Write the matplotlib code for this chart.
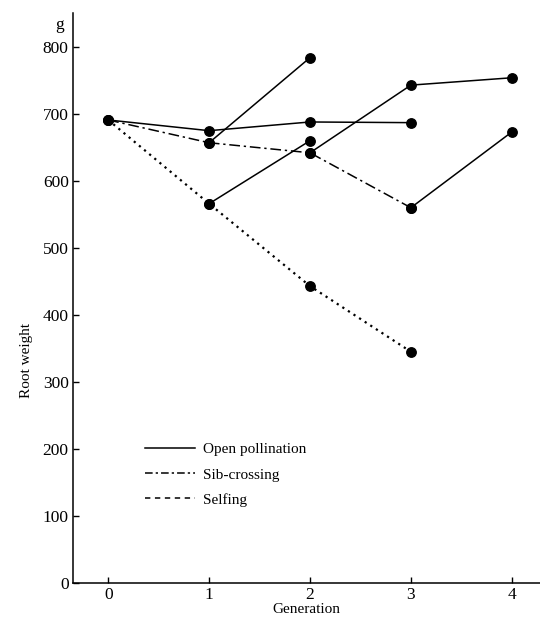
import matplotlib.pyplot as plt
from matplotlib.lines import Line2D

plt.rcParams['font.family'] = ['Liberation Serif', 'DejaVu Serif']

# mean root weight (g) per generation
gen_open = [0, 1, 2, 3]
open_poll = [691, 675, 688, 687]

gen_sib = [0, 1, 2, 3]
sib_cross = [691, 657, 642, 560]

gen_self = [0, 1, 2, 3]
selfing = [691, 566, 443, 345]

# open-pollinated progeny raised from the inbred lines
branch_gens = [[1, 2], [1, 2], [2, 3, 4], [3, 4]]
branch_vals = [[657, 784], [566, 660], [642, 743, 754], [560, 673]]

y_ticks = [0, 100, 200, 300, 400, 500, 600, 700, 800]
x_ticks = [0, 1, 2, 3, 4]

fig = plt.figure(figsize=(5.4, 6.24), dpi=100)
ax = fig.add_axes([0.135, 0.066, 0.865, 0.9135])

lw = 1.1
ms = 6.8
for g, v in zip(branch_gens, branch_vals):
    ax.plot(g, v, color='black', lw=lw, marker='o', ms=ms)
ax.plot(gen_open, open_poll, color='black', lw=lw, marker='o', ms=ms)
ax.plot(gen_sib, sib_cross, color='black', lw=lw, marker='o', ms=ms,
        dashes=[7, 2.5, 1.5, 2.5])
ax.plot(gen_self, selfing, color='black', lw=1.6, marker='o', ms=ms,
        linestyle=(0, (1, 2)))

handles = [
    Line2D([], [], color='black', lw=lw),
    Line2D([], [], color='black', lw=lw, dashes=[5, 2, 1.5, 2]),
    Line2D([], [], color='black', lw=lw, dashes=[3.5, 3]),
]
ax.legend(handles, ['Open pollination', 'Sib-crossing', 'Selfing'],
          loc='upper left', bbox_to_anchor=(0.125, 0.27), frameon=False,
          fontsize=11, handlelength=3.3, handletextpad=0.5,
          labelspacing=0.75)

ax.set_xlim(-0.35, 4.28)
ax.set_ylim(0, 851)
ax.set_xticks(x_ticks)
ax.set_yticks(y_ticks)
ax.tick_params(direction='in', length=4, width=1, labelsize=12.5)
ax.tick_params(axis='x', pad=3)
ax.tick_params(axis='y', pad=3)
ax.spines['top'].set_visible(False)
ax.spines['right'].set_visible(False)
ax.spines['left'].set_linewidth(1.1)
ax.spines['bottom'].set_linewidth(1.1)

ax.set_xlabel('Generation', fontsize=11, labelpad=0)
ax.set_ylabel('Root weight', fontsize=11)
ax.yaxis.set_label_coords(-0.085, 0.39)
ax.text(-0.02, 0.978, 'g', transform=ax.transAxes, ha='right', va='center',
        fontsize=12.5)

fig.savefig('out.png', dpi=100)
